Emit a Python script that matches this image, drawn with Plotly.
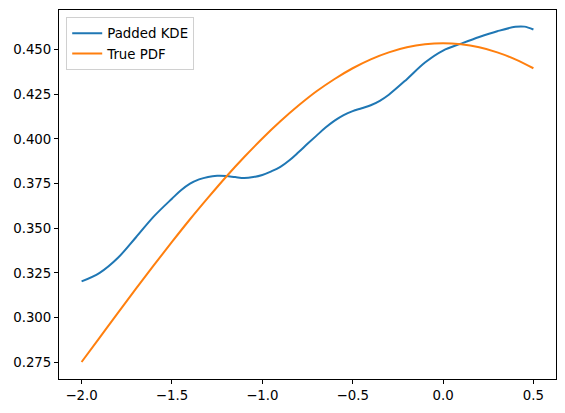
import plotly.graph_objects as go

x_kde = [-2.0, -1.9, -1.8, -1.7, -1.6, -1.5, -1.45, -1.4, -1.35, -1.3, -1.25, -1.2, -1.15,
         -1.1, -1.05, -1.0, -0.95, -0.9, -0.85, -0.8, -0.75, -0.7, -0.65, -0.6, -0.55,
         -0.5, -0.45, -0.4, -0.35, -0.3, -0.2, -0.1, 0.0, 0.1, 0.2, 0.3, 0.4, 0.45, 0.5]
y_kde = [0.3202, 0.3250, 0.3333, 0.3448, 0.3566, 0.3665, 0.3712, 0.3749, 0.3773, 0.3787,
         0.3793, 0.3792, 0.3786, 0.3781, 0.3786, 0.3798, 0.3818, 0.3843, 0.3880, 0.3925,
         0.3972, 0.4018, 0.4063, 0.4102, 0.4133, 0.4155, 0.4171, 0.4188, 0.4213, 0.4247,
         0.4334, 0.4427, 0.4494, 0.4533, 0.4570, 0.4602, 0.4627, 0.4628, 0.4612]

x_pdf = [-2.0, -1.9, -1.8, -1.7, -1.6, -1.5, -1.4, -1.3, -1.2, -1.1, -1.0, -0.9, -0.8,
         -0.7, -0.6, -0.5, -0.4, -0.3, -0.2, -0.1, 0.0, 0.1, 0.2, 0.3, 0.4, 0.5]
y_pdf = [0.2751, 0.2888, 0.3025, 0.3160, 0.3293, 0.3423, 0.3550, 0.3671, 0.3788, 0.3898,
         0.4002, 0.4098, 0.4186, 0.4266, 0.4335, 0.4395, 0.4445, 0.4484, 0.4512, 0.4529,
         0.4535, 0.4529, 0.4512, 0.4484, 0.4445, 0.4395]

x_ticks = [-2.0, -1.5, -1.0, -0.5, 0.0, 0.5]
y_ticks = [0.275, 0.300, 0.325, 0.350, 0.375, 0.400, 0.425, 0.450]

fig = go.Figure()
fig.add_trace(go.Scatter(x=x_kde, y=y_kde, mode="lines", name="Padded KDE",
                         line=dict(color="#1f77b4", width=2, shape="spline", smoothing=1.0)))
fig.add_trace(go.Scatter(x=x_pdf, y=y_pdf, mode="lines", name="True PDF",
                         line=dict(color="#ff7f0e", width=2, shape="spline", smoothing=1.0)))

axis_common = dict(showline=True, linecolor="black", linewidth=1, mirror=True,
                   ticks="outside", ticklen=4, tickwidth=1, tickcolor="black",
                   showgrid=False, zeroline=False,
                   tickfont=dict(family="DejaVu Sans", size=13.33, color="black"))

fig.update_layout(
    width=565, height=413,
    margin=dict(l=59, r=9, t=10, b=34),
    plot_bgcolor="white", paper_bgcolor="white",
    font=dict(family="DejaVu Sans", size=13.33, color="black"),
    xaxis=dict(range=[-2.125, 0.625], tickvals=x_ticks,
               ticktext=[("\u2212" if v < 0 else "") + f"{abs(v):.1f}" for v in x_ticks],
               **axis_common),
    yaxis=dict(range=[0.2656, 0.4721], tickvals=y_ticks,
               ticktext=[f"{v:.3f}" for v in y_ticks], **axis_common),
    legend=dict(x=0.0145, y=0.981, xanchor="left", yanchor="top",
                bgcolor="rgba(255,255,255,0.8)", bordercolor="#d0d0d0", borderwidth=1,
                font=dict(family="DejaVu Sans", size=13.33, color="black"),
                tracegroupgap=0, itemwidth=30),
    showlegend=True,
)

fig.write_html("out.html")
